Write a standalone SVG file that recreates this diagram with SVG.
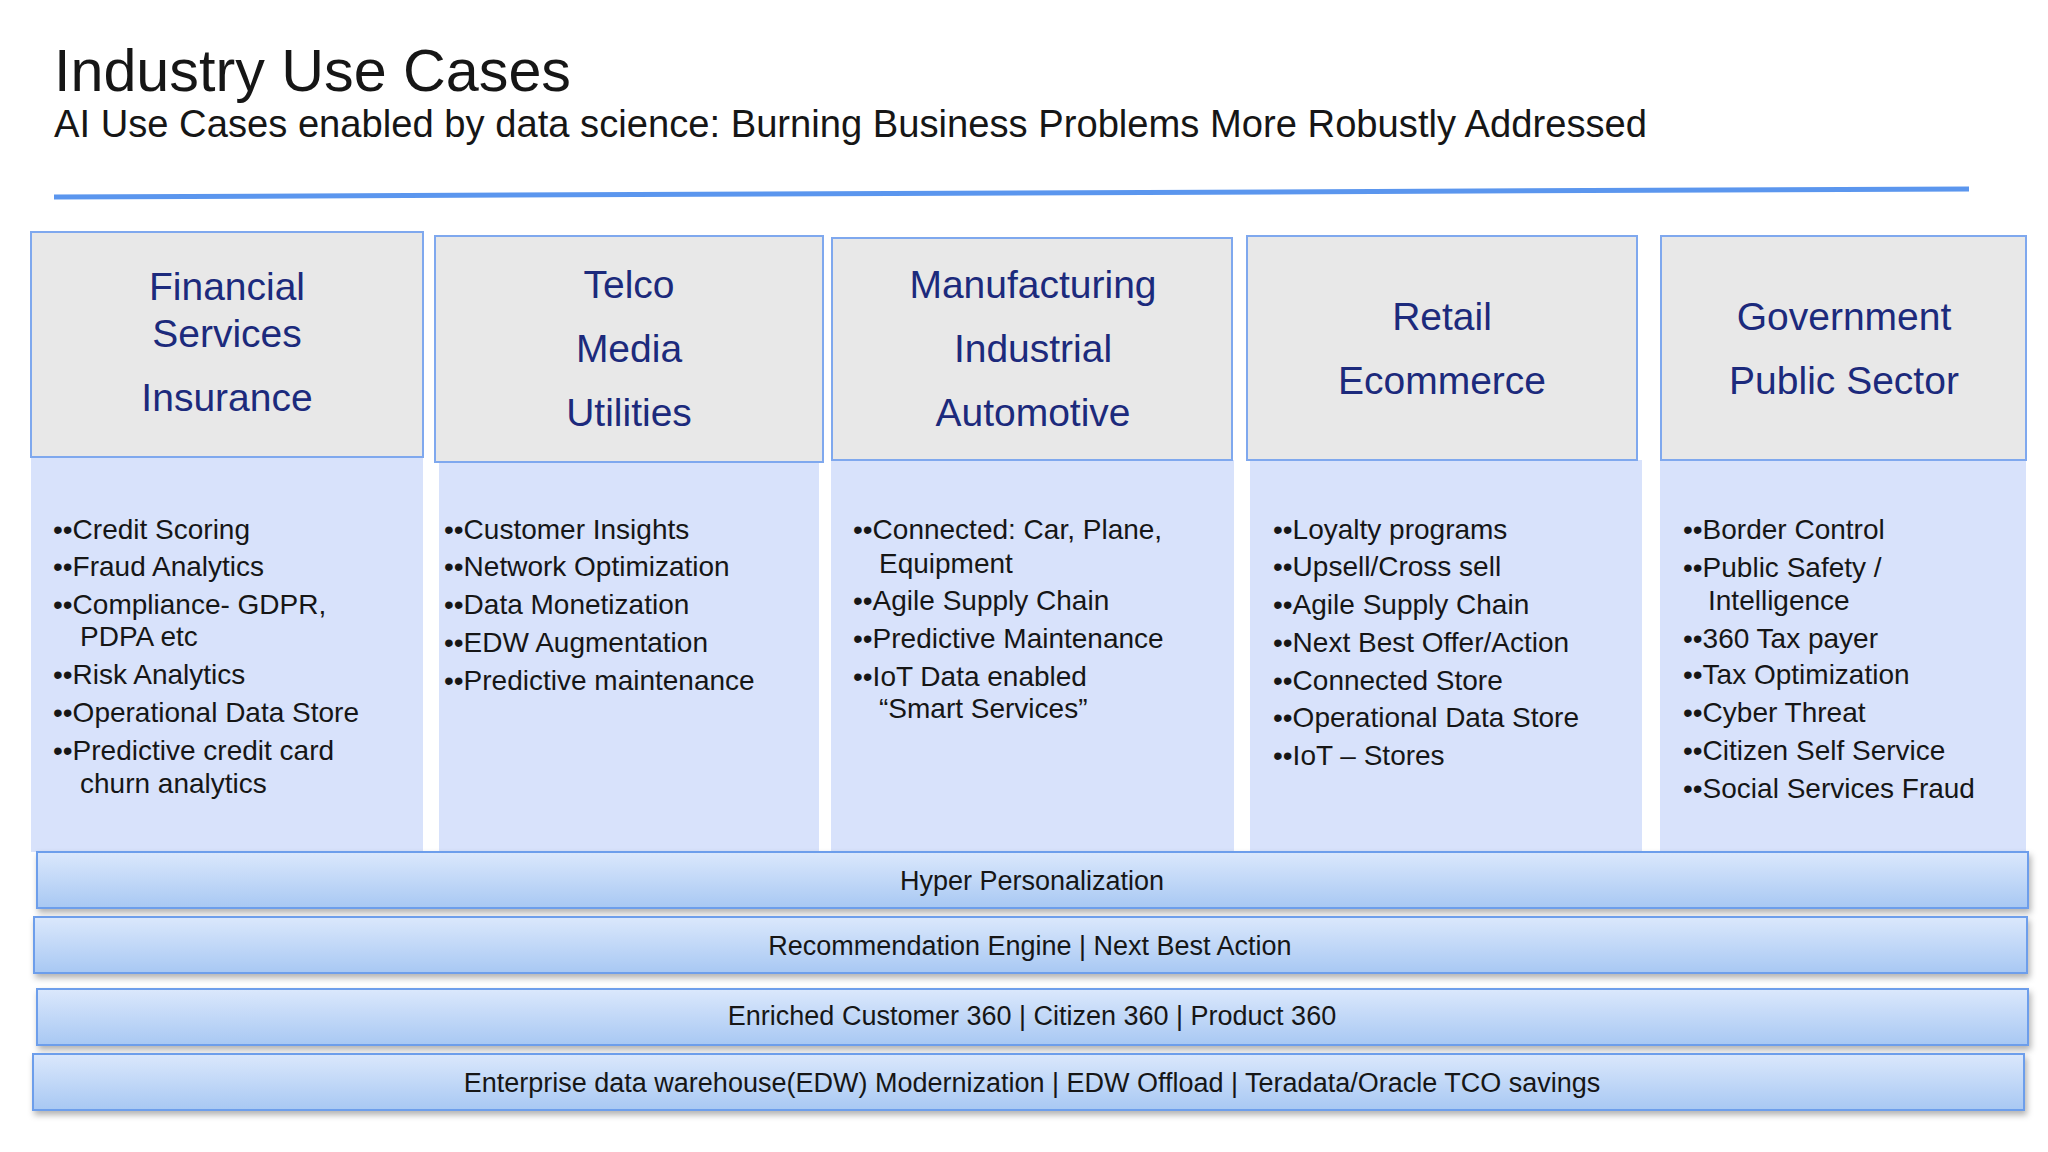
<svg xmlns="http://www.w3.org/2000/svg" width="2048" height="1152" viewBox="0 0 2048 1152">
<defs>
<linearGradient id="bg" x1="0" y1="0" x2="0" y2="1"><stop offset="0" stop-color="#dbe8fc"/><stop offset="1" stop-color="#a8c8f3"/></linearGradient>
<filter id="sh" x="-5%" y="-20%" width="110%" height="150%"><feDropShadow dx="2" dy="4" stdDeviation="3" flood-color="#000" flood-opacity="0.3"/></filter>
</defs>
<style>
text{font-family:"Liberation Sans","Noto Sans",sans-serif;fill:#161616}
.hd{fill:#e8e8e8;stroke:#7fa8ee;stroke-width:2}
.bd{fill:#d8e2fb}
.ht{font-size:39px;fill:#1c2a7c;text-anchor:middle}
.li{font-size:28px}
.band{fill:url(#bg);stroke:#6d9eeb;stroke-width:2;filter:url(#sh)}
.bt{font-size:27px;text-anchor:middle}
</style>
<rect width="2048" height="1152" fill="#fff"/>
<text x="54" y="91" font-size="60" textLength="517" lengthAdjust="spacingAndGlyphs">Industry Use Cases</text>
<text x="54" y="137" font-size="39" textLength="1593" lengthAdjust="spacingAndGlyphs">AI Use Cases enabled by data science: Burning Business Problems More Robustly Addressed</text>
<line x1="54" y1="197" x2="1969" y2="189" stroke="#5b96ee" stroke-width="5"/>

<g id="col1">
<rect class="bd" x="31" y="457" width="392" height="395"/>
<rect class="hd" x="31" y="232" width="392" height="225"/>
<text class="ht" x="227" y="300">Financial</text><text class="ht" x="227" y="347">Services</text><text class="ht" x="227" y="411">Insurance</text>
<g class="li"><text x="53" y="539">••Credit Scoring</text><text x="53" y="576">••Fraud Analytics</text><text x="53" y="614">••Compliance- GDPR,</text><text x="80" y="646">PDPA etc</text><text x="53" y="684">••Risk Analytics</text><text x="53" y="722">••Operational Data Store</text><text x="53" y="760">••Predictive credit card</text><text x="80" y="793">churn analytics</text></g>
</g>
<g id="col2">
<rect class="bd" x="439" y="460" width="380" height="392"/>
<rect class="hd" x="435" y="236" width="388" height="226"/>
<text class="ht" x="629" y="298">Telco</text><text class="ht" x="629" y="362">Media</text><text class="ht" x="629" y="426">Utilities</text>
<g class="li"><text x="444" y="539">••Customer Insights</text><text x="444" y="576">••Network Optimization</text><text x="444" y="614">••Data Monetization</text><text x="444" y="652">••EDW Augmentation</text><text x="444" y="690">••Predictive maintenance</text></g>
</g>
<g id="col3">
<rect class="bd" x="831" y="460" width="403" height="392"/>
<rect class="hd" x="832" y="238" width="400" height="222"/>
<text class="ht" x="1033" y="298">Manufacturing</text><text class="ht" x="1033" y="362">Industrial</text><text class="ht" x="1033" y="426">Automotive</text>
<g class="li"><text x="853" y="539">••Connected: Car, Plane,</text><text x="879" y="573">Equipment</text><text x="853" y="610">••Agile Supply Chain</text><text x="853" y="648">••Predictive Maintenance</text><text x="853" y="686">••IoT Data enabled</text><text x="879" y="718">“Smart Services”</text></g>
</g>
<g id="col4">
<rect class="bd" x="1250" y="460" width="392" height="392"/>
<rect class="hd" x="1247" y="236" width="390" height="224"/>
<text class="ht" x="1442" y="330">Retail</text><text class="ht" x="1442" y="394">Ecommerce</text>
<g class="li"><text x="1273" y="539">••Loyalty programs</text><text x="1273" y="576">••Upsell/Cross sell</text><text x="1273" y="614">••Agile Supply Chain</text><text x="1273" y="652">••Next Best Offer/Action</text><text x="1273" y="690">••Connected Store</text><text x="1273" y="727">••Operational Data Store</text><text x="1273" y="765">••IoT – Stores</text></g>
</g>
<g id="col5">
<rect class="bd" x="1660" y="460" width="366" height="392"/>
<rect class="hd" x="1661" y="236" width="365" height="224"/>
<text class="ht" x="1844" y="330">Government</text><text class="ht" x="1844" y="394">Public Sector</text>
<g class="li"><text x="1683" y="539">••Border Control</text><text x="1683" y="577">••Public Safety /</text><text x="1708" y="610">Intelligence</text><text x="1683" y="648">••360 Tax payer</text><text x="1683" y="684">••Tax Optimization</text><text x="1683" y="722">••Cyber Threat</text><text x="1683" y="760">••Citizen Self Service</text><text x="1683" y="798">••Social Services Fraud</text></g>
</g>

<g id="band1"><rect class="band" x="37" y="852" width="1991" height="56"/><text class="bt" x="1032" y="890">Hyper Personalization</text></g>
<g id="band2"><rect class="band" x="34" y="917" width="1993" height="56"/><text class="bt" x="1030" y="955">Recommendation Engine | Next Best Action</text></g>
<g id="band3"><rect class="band" x="37" y="989" width="1991" height="56"/><text class="bt" x="1032" y="1025">Enriched Customer 360 | Citizen 360 | Product 360</text></g>
<g id="band4"><rect class="band" x="33" y="1054" width="1991" height="56"/><text class="bt" x="1032" y="1092">Enterprise data warehouse(EDW) Modernization | EDW Offload | Teradata/Oracle TCO savings</text></g>
<g id="connectors"/>
</svg>
